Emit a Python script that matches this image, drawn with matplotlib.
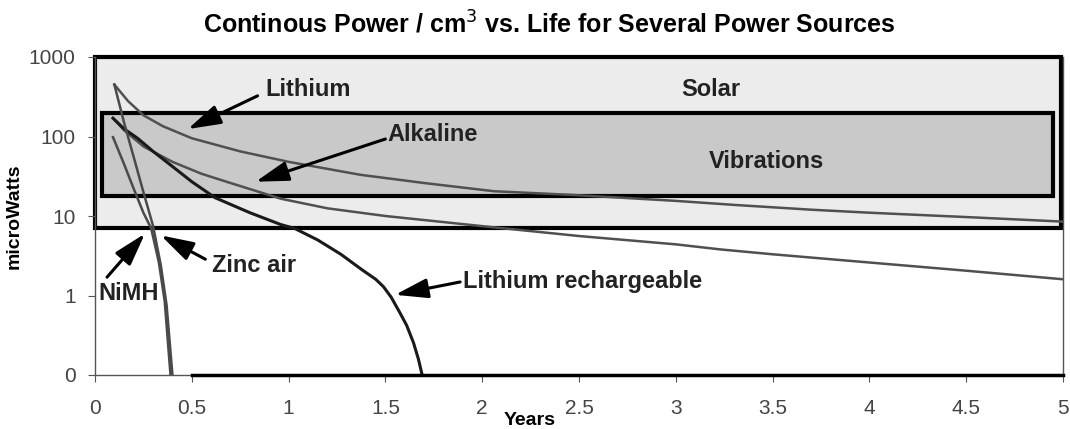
import numpy as np
import matplotlib as mpl
import matplotlib.pyplot as plt
from matplotlib.patches import Rectangle

mpl.rcParams.update({
    "font.family": ["Liberation Sans", "DejaVu Sans"],
    "font.size": 15,
    "axes.linewidth": 1.0,
    "axes.edgecolor": "#555555",
    "xtick.major.size": 5,
    "ytick.major.size": 5,
    "xtick.color": "#555555",
    "ytick.color": "#555555",
    "xtick.labelcolor": "#444444",
    "ytick.labelcolor": "#444444",
})

# axis ticks
year_ticks = [0, 0.5, 1, 1.5, 2, 2.5, 3, 3.5, 4, 4.5, 5]
year_labels = ["0", "0.5", "1", "1.5", "2", "2.5", "3", "3.5", "4", "4.5", "5"]
power_ticks = [0.1, 1, 10, 100, 1000]          # bottom "0" drawn at 0.1 on the log axis
power_labels = ["0", "1", "10", "100", "1000"]

# power source regions (years, microWatts)
solar_x = [0.0, 4.99]
solar_y = [7, 1000]
vib_x = [0.035, 4.95]
vib_y = [18, 200]

# curves
lithium_x = [0.1, 0.17, 0.25, 0.35, 0.5, 0.75, 1.0, 1.37, 1.7, 2.06, 2.47, 3.0, 3.3, 3.7, 4.0, 4.5, 5.0]
lithium_y = [450, 280, 185, 135, 95, 65, 48, 33, 26, 20.5, 18.4, 15.5, 13.8, 12, 11, 9.7, 8.5]

alkaline_x = [0.093, 0.15, 0.25, 0.4, 0.55, 0.7, 0.85, 0.96, 1.2, 1.5, 1.99, 2.16, 2.5, 3.0, 3.23, 3.5, 4.0, 4.5, 5.0]
alkaline_y = [170, 120, 75, 48, 34, 26, 20, 16.5, 12.5, 10, 7.5, 6.8, 5.6, 4.4, 3.8, 3.3, 2.6, 2.05, 1.6]

li_rech_x = [0.093, 0.15, 0.22, 0.3, 0.4, 0.5, 0.62, 0.8, 0.96, 1.03, 1.15, 1.27, 1.38,
             1.45, 1.49, 1.53, 1.576, 1.61, 1.645, 1.67, 1.69]
li_rech_y = [170, 125, 95, 65, 42, 27, 17, 11, 7.8, 7.0, 5.0, 3.3, 2.1,
             1.6, 1.29, 0.95, 0.6, 0.42, 0.255, 0.16, 0.1]

zinc_x = [0.1, 0.15, 0.2, 0.25, 0.3, 0.34, 0.37, 0.4]
zinc_y = [450, 150, 55, 20, 7.5, 2.4, 0.75, 0.1]

nimh_x = [0.093, 0.15, 0.2, 0.25, 0.29, 0.33, 0.36, 0.39]
nimh_y = [98, 45, 22, 11, 7, 2.6, 0.85, 0.1]

zero_x = [0.5, 5.0]
zero_y = [0.1, 0.1]

fig = plt.figure(figsize=(10.7, 4.29), dpi=100)
ax = fig.add_axes([95 / 1070, 1 - 375 / 429, 968 / 1070, 318 / 429])
ax.set_yscale("log")

ax.add_patch(Rectangle((solar_x[0], solar_y[0]), solar_x[1] - solar_x[0], solar_y[1] - solar_y[0],
                       facecolor="#ececec", edgecolor="black", lw=3, zorder=1, clip_on=False))
ax.add_patch(Rectangle((vib_x[0], vib_y[0]), vib_x[1] - vib_x[0], vib_y[1] - vib_y[0],
                       facecolor="#c9c9c9", edgecolor="black", lw=3, zorder=1.5))

ax.plot(lithium_x, lithium_y, color="#505050", lw=1.8, zorder=3)
ax.plot(alkaline_x, alkaline_y, color="#505050", lw=1.8, zorder=3)
ax.plot(li_rech_x, li_rech_y, color="#1a1a1a", lw=2.2, zorder=3)
ax.plot(zinc_x, zinc_y, color="#4a4a4a", lw=1.8, zorder=3)
ax.plot(nimh_x, nimh_y, color="#4a4a4a", lw=1.8, zorder=3)
ax.plot(zero_x, zero_y, color="black", lw=2.5, zorder=3, clip_on=False)

ax.set_xlim(0, 5)
ax.set_ylim(0.1, 1000)
ax.set_xticks(year_ticks)
ax.set_xticklabels(year_labels)
ax.set_yticks(power_ticks)
ax.set_yticklabels(power_labels)
ax.minorticks_off()
ax.tick_params(axis="x", pad=12)
ax.tick_params(axis="y", pad=9)
ax.spines["top"].set_visible(False)

ax.set_title("Continous Power / cm$^3$ vs. Life for Several Power Sources",
             fontsize=18, fontweight="bold", pad=17, x=0.469)
ax.set_xlabel("Years", fontsize=14, fontweight="bold")
ax.xaxis.set_label_coords(0.449, -0.115)
ax.set_ylabel("microWatts", fontsize=14, fontweight="bold")
ax.yaxis.set_label_coords(-0.0744, 0.5)

lab = dict(fontsize=17, fontweight="bold", color="#222222", zorder=5)
arrow = dict(arrowstyle="-|>,head_length=1.0,head_width=0.3", lw=2.2, color="black",
             mutation_scale=20, shrinkA=0, shrinkB=0)

ax.text(3.18, 386, "Solar", ha="center", va="center", **lab)
ax.text(3.47, 48, "Vibrations", ha="center", va="center", **lab)

ax.text(0.88, 386, "Lithium", ha="left", va="center", **lab)
ax.annotate("", xy=(0.48, 124), xytext=(0.84, 325), arrowprops=arrow, zorder=5)

ax.text(1.51, 107, "Alkaline", ha="left", va="center", **lab)
ax.annotate("", xy=(0.83, 27), xytext=(1.5, 93), arrowprops=arrow, zorder=5)

ax.text(0.605, 2.4, "Zinc air", ha="left", va="center", **lab)
ax.annotate("", xy=(0.34, 5.7), xytext=(0.57, 2.86), arrowprops=arrow, zorder=5)

ax.text(0.016, 1.05, "NiMH", ha="left", va="center", **lab)
ax.annotate("", xy=(0.258, 6.0), xytext=(0.062, 1.7), arrowprops=arrow, zorder=5)

ax.text(1.9, 1.48, "Lithium rechargeable", ha="left", va="center", **lab)
ax.annotate("", xy=(1.55, 1.02), xytext=(1.886, 1.48), arrowprops=arrow, zorder=5)

fig.savefig("out.png", dpi=100)
